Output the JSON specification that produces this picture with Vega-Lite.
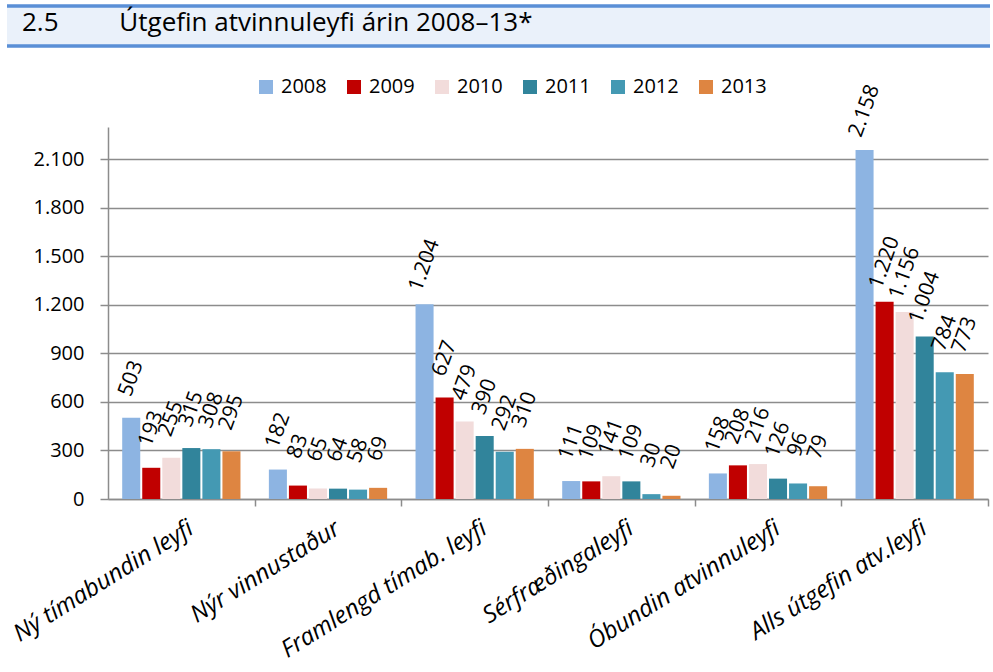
{
  "$schema": "https://vega.github.io/schema/vega-lite/v6.json",
  "padding": {"left": 5, "top": 4, "right": 0, "bottom": 0},
  "config": {
    "font": "Open Sans",
    "locale": {"number": {"decimal": ",", "thousands": ".", "grouping": [3], "currency": ["", ""]}},
    "view": {"stroke": null}
  },
  "bounds": "flush",
  "spacing": 81,
  "vconcat": [
    {
      "width": 983,
      "height": 40,
      "view": {"fill": "#EAF1FA", "stroke": "#5A8FD6", "strokeWidth": 3.5, "strokeDash": [983, 40, 983, 40]},
      "title": {
        "text": "2.5\u00a0\u00a0\u00a0\u00a0\u00a0\u00a0\u00a0\u00a0\u00a0Útgefin atvinnuleyfi árin 2008–13*",
        "anchor": "start",
        "frame": "group",
        "orient": "top",
        "offset": -30,
        "dx": 15,
        "fontSize": 26,
        "fontWeight": "normal",
        "color": "#000000",
        "font": "Open Sans"
      },
      "data": {"values": []},
      "mark": "point"
    },
    {
      "bounds": "flush",
      "spacing": 100,
      "hconcat": [
        {"width": 1, "height": 1, "data": {"values": []}, "mark": "point"},
        {
          "width": 880,
          "height": 372,
          "data": {"values": [
            {"cat": "Ný tímabundin leyfi", "year": "2008", "value": 503},
            {"cat": "Ný tímabundin leyfi", "year": "2009", "value": 193},
            {"cat": "Ný tímabundin leyfi", "year": "2010", "value": 255},
            {"cat": "Ný tímabundin leyfi", "year": "2011", "value": 315},
            {"cat": "Ný tímabundin leyfi", "year": "2012", "value": 308},
            {"cat": "Ný tímabundin leyfi", "year": "2013", "value": 295},
            {"cat": "Nýr vinnustaður", "year": "2008", "value": 182},
            {"cat": "Nýr vinnustaður", "year": "2009", "value": 83},
            {"cat": "Nýr vinnustaður", "year": "2010", "value": 65},
            {"cat": "Nýr vinnustaður", "year": "2011", "value": 64},
            {"cat": "Nýr vinnustaður", "year": "2012", "value": 58},
            {"cat": "Nýr vinnustaður", "year": "2013", "value": 69},
            {"cat": "Framlengd tímab. leyfi", "year": "2008", "value": 1204},
            {"cat": "Framlengd tímab. leyfi", "year": "2009", "value": 627},
            {"cat": "Framlengd tímab. leyfi", "year": "2010", "value": 479},
            {"cat": "Framlengd tímab. leyfi", "year": "2011", "value": 390},
            {"cat": "Framlengd tímab. leyfi", "year": "2012", "value": 292},
            {"cat": "Framlengd tímab. leyfi", "year": "2013", "value": 310},
            {"cat": "Sérfræðingaleyfi", "year": "2008", "value": 111},
            {"cat": "Sérfræðingaleyfi", "year": "2009", "value": 109},
            {"cat": "Sérfræðingaleyfi", "year": "2010", "value": 141},
            {"cat": "Sérfræðingaleyfi", "year": "2011", "value": 109},
            {"cat": "Sérfræðingaleyfi", "year": "2012", "value": 30},
            {"cat": "Sérfræðingaleyfi", "year": "2013", "value": 20},
            {"cat": "Óbundin atvinnuleyfi", "year": "2008", "value": 158},
            {"cat": "Óbundin atvinnuleyfi", "year": "2009", "value": 208},
            {"cat": "Óbundin atvinnuleyfi", "year": "2010", "value": 216},
            {"cat": "Óbundin atvinnuleyfi", "year": "2011", "value": 126},
            {"cat": "Óbundin atvinnuleyfi", "year": "2012", "value": 96},
            {"cat": "Óbundin atvinnuleyfi", "year": "2013", "value": 79},
            {"cat": "Alls útgefin atv.leyfi", "year": "2008", "value": 2158},
            {"cat": "Alls útgefin atv.leyfi", "year": "2009", "value": 1220},
            {"cat": "Alls útgefin atv.leyfi", "year": "2010", "value": 1156},
            {"cat": "Alls útgefin atv.leyfi", "year": "2011", "value": 1004},
            {"cat": "Alls útgefin atv.leyfi", "year": "2012", "value": 784},
            {"cat": "Alls útgefin atv.leyfi", "year": "2013", "value": 773}
          ]},
          "encoding": {
            "x": {
              "field": "cat", "type": "nominal", "sort": null,
              "scale": {"paddingInner": 0.18, "paddingOuter": 0.09},
              "axis": {
                "title": null, "labelAngle": -32, "labelFontSize": 24, "labelFontStyle": "italic",
                "labelColor": "#000000", "labelFont": "Open Sans", "labelLimit": 400, "labelPadding": 10,
                "bandPosition": 1, "tickOffset": 13.2, "labelOffset": -10,
                "tickSize": 7, "tickColor": "#8c8c8c", "tickWidth": 1.5,
                "domainColor": "#8c8c8c", "domainWidth": 1.5
              }
            },
            "xOffset": {"field": "year", "type": "nominal", "scale": {"paddingInner": 0.1, "paddingOuter": 0.05}},
            "y": {
              "field": "value", "type": "quantitative",
              "scale": {"domain": [0, 2300], "nice": false},
              "axis": {
                "title": null, "values": [0, 300, 600, 900, 1200, 1500, 1800, 2100], "format": ",d",
                "labelFontSize": 20, "labelColor": "#000000", "labelPadding": 16,
                "tickSize": 8, "tickColor": "#8c8c8c", "tickWidth": 1.5,
                "domainColor": "#8c8c8c", "domainWidth": 1.5,
                "grid": true, "gridColor": "#8c8c8c", "gridWidth": 1.5
              }
            }
          },
          "layer": [
            {
              "mark": {"type": "bar"},
              "encoding": {
                "color": {
                  "field": "year", "type": "nominal",
                  "scale": {"domain": ["2008", "2009", "2010", "2011", "2012", "2013"],
                            "range": ["#8DB4E2", "#C00000", "#F2DCDB", "#31849B", "#4499B3", "#DE8541"]},
                  "legend": {
                    "title": null, "orient": "none", "legendX": 249, "legendY": 71,
                    "direction": "horizontal", "symbolType": "square", "symbolSize": 196,
                    "symbolStrokeWidth": 0, "labelFontSize": 20, "labelOffset": 5,
                    "columnPadding": 17, "labelColor": "#000000", "padding": 0
                  }
                }
              }
            },
            {
              "mark": {"type": "text", "angle": -70, "align": "center", "baseline": "middle",
                       "dx": 36.7, "dy": -13.3, "fontSize": 21, "color": "#000000"},
              "encoding": {"text": {"field": "value", "type": "quantitative", "format": ",d"}}
            }
          ]
        }
      ]
    }
  ]
}
